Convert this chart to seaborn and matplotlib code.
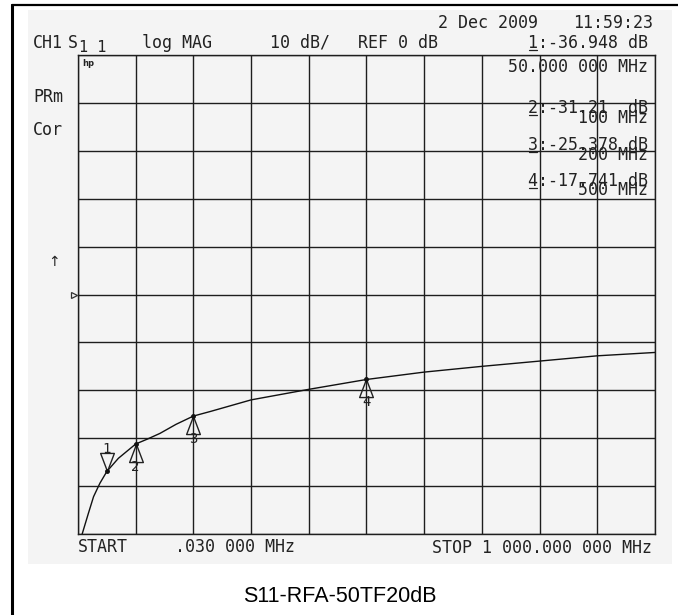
import numpy as np
import matplotlib
matplotlib.use("Agg")
import matplotlib.pyplot as plt
import seaborn as sns
from matplotlib.patches import Rectangle
from matplotlib.lines import Line2D
from matplotlib.path import Path

# trace (MHz, dB)
freq = [0.03, 6, 18, 27, 38, 50, 70, 100, 120, 142, 170, 200, 230, 300, 400, 500, 600, 700, 800, 900, 1000]
s11_db = [-53, -50.5, -45.7, -42.2, -39.4, -36.948, -34.2, -31.21, -30.2, -29.0, -27.1, -25.378, -24.4,
          -22.0, -19.8, -17.741, -16.2, -15.0, -13.9, -12.8, -12.1]

# markers
mk_num = ["1", "2", "3", "4"]
mk_freq = [50, 100, 200, 500]
mk_db = [-36.948, -31.21, -25.378, -17.741]
mk_val_txt = ["1:-36.948 dB", "2:-31.21  dB", "3:-25.378 dB", "4:-17.741 dB"]
mk_freq_txt = ["50.000 000 MHz", "100 MHz", "200 MHz", "500 MHz"]

W, H = 678, 615
sns.set_theme(style="white")
plt.rcParams['font.family'] = ['DejaVu Sans Mono', 'DejaVu Sans']

fig = plt.figure(figsize=(W / 100, H / 100), dpi=100)
fig.patch.set_facecolor("white")


def px(x, y):
    return x / W, 1 - y / H


# screenshot background + page frame
fig.add_artist(Rectangle(px(28, 564), (672 - 28) / W, (564 - 10) / H,
                         transform=fig.transFigure, facecolor="#f4f4f4",
                         edgecolor="none", zorder=-5))
fig.add_artist(Line2D([12 / W, 12 / W], [0, 1 - 5 / H], transform=fig.transFigure,
                      color="black", lw=2.2))
fig.add_artist(Line2D([12 / W, 1], [1 - 5 / H, 1 - 5 / H], transform=fig.transFigure,
                      color="black", lw=1.6))

ax = fig.add_axes([78 / W, 1 - 534 / H, (655 - 78) / W, (534 - 55) / H])
ax.set_facecolor("none")
ax.set_xlim(0.03, 1000)
ax.set_ylim(-50, 50)
ax.set_xticks(np.linspace(0.03, 1000, 11))
ax.set_yticks(np.linspace(-50, 50, 11))
ax.tick_params(length=0, labelbottom=False, labelleft=False)
ax.grid(True, color="#1e1e1e", lw=1.0)
for sp in ax.spines.values():
    sp.set_color("#1e1e1e")
    sp.set_linewidth(1.0)

sns.lineplot(x=freq, y=s11_db, ax=ax, color="#111111", lw=1.0)

# marker triangles (apex on the trace)
up = Path([(0, 0), (-0.38, -1), (0.38, -1), (0, 0)], [1, 2, 2, 79])
down = Path([(0, 0), (-0.38, 1), (0.38, 1), (0, 0)], [1, 2, 2, 79])
ax.plot(mk_freq[:1], mk_db[:1], marker=down, ms=26, mfc="none", mec="#222", mew=1.0, ls="none")
ax.plot(mk_freq[1:], mk_db[1:], marker=up, ms=26, mfc="none", mec="#222", mew=1.0, ls="none")
ax.plot(mk_freq, mk_db, marker="o", ms=2.5, color="#111", ls="none")
ax.annotate(mk_num[0], (mk_freq[0], mk_db[0]), xytext=(0, 16), textcoords="offset points",
            ha="center", va="center", fontsize=10, color="#222")
for n, f, d in zip(mk_num[1:], mk_freq[1:], mk_db[1:]):
    ax.annotate(n, (f, d), xytext=(0, -16.5), textcoords="offset points",
                ha="center", va="center", fontsize=10, color="#222")

# reference position marker
ax.plot([-0.007], [0], marker=">", ms=5, mfc="none", mec="#333", mew=0.9,
        transform=ax.get_yaxis_transform(), clip_on=False)

tc = "#222222"
fs = 12
pitch = 0.602 * fs * 100 / 72


def t(x, y, s, ha="left", size=fs, **kw):
    fig.text(*px(x, y), s, ha=ha, va="center", fontsize=size, color=tc, **kw)


t(438, 23, "2 Dec 2009")
t(653, 23, "11:59:23", ha="right")
t(33, 42.5, "CH1")
t(68, 42.5, "S")
t(79, 47, "1 1", size=11)
t(142, 42.5, "log MAG")
t(270, 42.5, "10 dB/")
t(358, 42.5, "REF 0 dB")
t(33, 97, "PRm")
t(33, 130, "Cor")
t(48, 262, "↑", family="DejaVu Sans", size=10)
fig.text(*px(82, 64), "hp", ha="left", va="center", fontsize=6, fontweight="bold",
         color=tc, family="DejaVu Sans")

val_y = [42.5, 108, 145, 180.5]
frq_y = [67, 118, 155, 190]
for i in range(4):
    t(648, val_y[i], mk_val_txt[i], ha="right")
    t(648, frq_y[i], mk_freq_txt[i], ha="right")
    # underline the marker number
    x0 = 648 - len(mk_val_txt[i]) * pitch + 1
    yy = val_y[i] + 7
    fig.add_artist(Line2D([x0 / W, (x0 + pitch - 2) / W], [1 - yy / H] * 2,
                          transform=fig.transFigure, color=tc, lw=0.9))

t(78, 547, "START")
t(175, 547, ".030 000 MHz")
t(652, 548, "STOP 1 000.000 000 MHz", ha="right")

fig.text(*px(340, 597), "S11-RFA-50TF20dB", ha="center", va="center",
         fontsize=15.5, color="black", family="Liberation Sans")

fig.savefig("out.png", dpi=100, facecolor="white")
